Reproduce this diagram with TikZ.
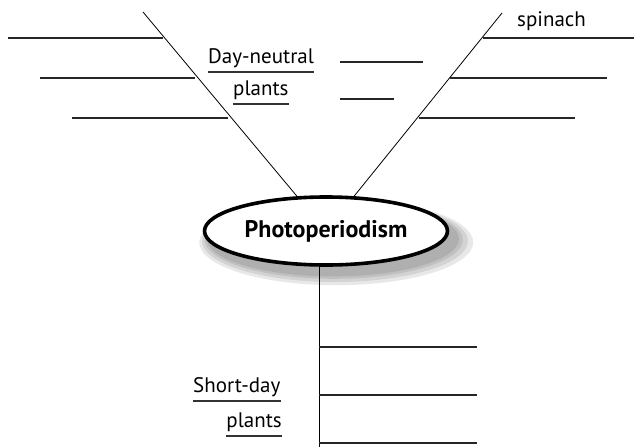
\documentclass[tikz,border=0pt]{standalone}
\usepackage{fontspec}
\setmainfont{PT Sans}
\usetikzlibrary{shapes.geometric,calc,backgrounds}

\tikzset{
  branch/.style={line width=1.3pt,black!85},
  spine/.style={line width=0.8pt,black},
  lbl/.style={inner sep=0pt,font=\fontsize{21}{24}\selectfont},
  uline/.style={line width=1.3pt,black!80}
}

\begin{document}
\begin{tikzpicture}[x=1pt,y=-1pt]
  \useasboundingbox (0,0) rectangle (634,447);
  % central ellipse with soft shadow
  \foreach \s in {14,10,6,3} {
    \fill[black,opacity=0.09] (332+0.3*\s,238+0.3*\s) ellipse ({123+\s} and {36+0.5*\s});
  }
  \node[ellipse,draw,fill=white,line width=3.6pt,minimum width=243,minimum height=68,
        inner sep=0pt,font=\fontsize{24}{27}\selectfont\bfseries] (photo) at (326,231) {Photoperiodism};
  % the three spines
  \coordinate (ltop) at (143,12);
  \coordinate (rtop) at (502,13);
  \coordinate (vbot) at (319,447);
  \draw[spine] (ltop) -- (photo);
  \draw[spine] (rtop) -- (photo);
  \draw[spine] (vbot |- photo.south) -- (vbot);
  % branches on the left spine
  \foreach \y/\xa/\xb in {38/8/163, 78/40/195, 118/72/228} {
    \draw[branch] (\xa,\y) -- (\xb,\y);
  }
  % branches on the right spine
  \foreach \y/\xa/\xb in {38/483/634, 78/450/607, 118/419/575} {
    \draw[branch] (\xa,\y) -- (\xb,\y);
  }
  % branches on the lower spine
  \foreach \y in {347, 395, 443} {
    \draw[branch] (319,\y) -- (477,\y);
  }
  % blanks
  \draw[branch] (340,62) -- (423,62);
  \draw[branch] (340,99) -- (394,99);
  % labels
  \node[lbl,anchor=base west] (dn) at (208,63) {Day-neutral};
  \node[lbl,anchor=base west] (dnp) at (233,95) {plants};
  \node[lbl,anchor=base west] (spin) at (517,27) {spinach};
  \node[lbl,anchor=base west] (sd) at (193,392) {Short-day};
  \node[lbl,anchor=base east] (sdp) at (282,427) {plants};
  \foreach \n in {dn,dnp,sd,sdp} {
    \draw[uline] ([yshift=-9pt]\n.base west) -- ([yshift=-9pt]\n.base east);
  }
\end{tikzpicture}
\end{document}
